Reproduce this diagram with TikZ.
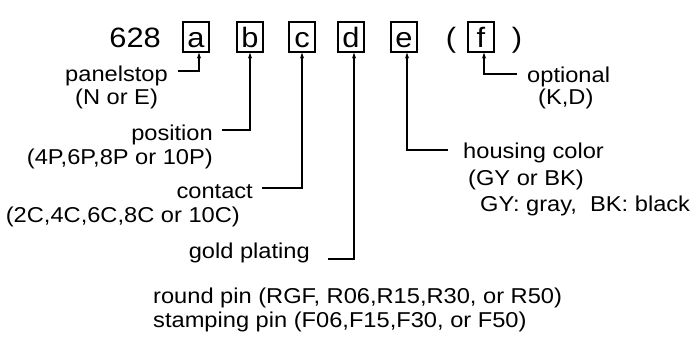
\documentclass[tikz,border=0pt]{standalone}
\usepackage{fontspec}
\setmainfont[FakeStretch=1.1]{Liberation Sans}
\usetikzlibrary{arrows.meta, positioning}

\begin{document}
\begin{tikzpicture}[
  x=1pt, y=-1pt,
  every node/.style={inner sep=0pt},
  part/.style={draw, line width=1.1pt, minimum width=26pt, minimum height=30pt,
    font=\fontsize{28}{30}\selectfont, text height=20pt, text depth=0pt},
  big/.style={font=\fontsize{28}{30}\selectfont},
  lbl/.style={font=\fontsize{21.5}{26}\selectfont},
  pointer/.style={line width=1.2pt, -{Stealth[length=6pt, width=4pt]}}
]
  \useasboundingbox (0,0) rectangle (690,340);

  % code line
  \node[big, anchor=base east] (code) at (161,47) {628};
  \node[part] (a) at (196,37) {a};
  \node[part] (b) at (250,37) {b};
  \node[part] (c) at (302,37) {c};
  \node[part] (d) at (351,37) {d};
  \node[part] (e) at (404,37) {e};
  \node[big, anchor=base] (lpar) at (451,47) {(};
  \node[part] (f) at (481,37) {f};
  \node[big, anchor=base] (rpar) at (517,47) {)};

  % labels on the left
  \node[lbl, anchor=base east] (panel) at (168,81) {panelstop};
  \node[lbl, anchor=base] (panelopt) at (panel.base |- 0,104) {(N or E)};
  \node[lbl, anchor=base east] (pos) at (213,140) {position};
  \node[lbl, anchor=base east] (posopt) at (213,164) {(4P,6P,8P or 10P)};
  \node[lbl, anchor=base east] (cont) at (253,198) {contact};
  \node[lbl, anchor=base east] (contopt) at (240,222) {(2C,4C,6C,8C or 10C)};
  \node[lbl, anchor=base east] (gold) at (310,258) {gold plating};
  \node[lbl, anchor=base west] (round) at (153,303) {round pin (RGF, R06,R15,R30, or R50)};
  \node[lbl, anchor=base west] (stamp) at (153,327) {stamping pin (F06,F15,F30, or F50)};

  % labels on the right
  \node[lbl, anchor=base west] (opt) at (527,82) {optional};
  \node[lbl, anchor=base west] (optval) at (538,104) {(K,D)};
  \node[lbl, anchor=base west] (house) at (463,158) {housing color};
  \node[lbl, anchor=base west] (houseopt) at (468,185) {(GY or BK)};
  \node[lbl, anchor=base west] (housekey) at (480,211) {GY: gray,\ \ BK: black};

  % pointers
  \draw[pointer] ([xshift=10pt, yshift=10pt]panel.base east) -| ([xshift=3pt]a.south);
  \draw[pointer] ([xshift=9pt, yshift=10pt]pos.base east) -| (b.south);
  \draw[pointer] ([xshift=9pt, yshift=10pt]cont.base east) -| (c.south);
  \draw[pointer] ([xshift=18pt, yshift=-1pt]gold.base east) -| ([xshift=3pt]d.south);
  \draw[pointer] ([xshift=-15pt, yshift=8pt]house.base west) -| ([xshift=3pt]e.south);
  \draw[pointer] ([xshift=-10pt, yshift=8pt]opt.base west) -| ([xshift=3pt]f.south);
\end{tikzpicture}
\end{document}
